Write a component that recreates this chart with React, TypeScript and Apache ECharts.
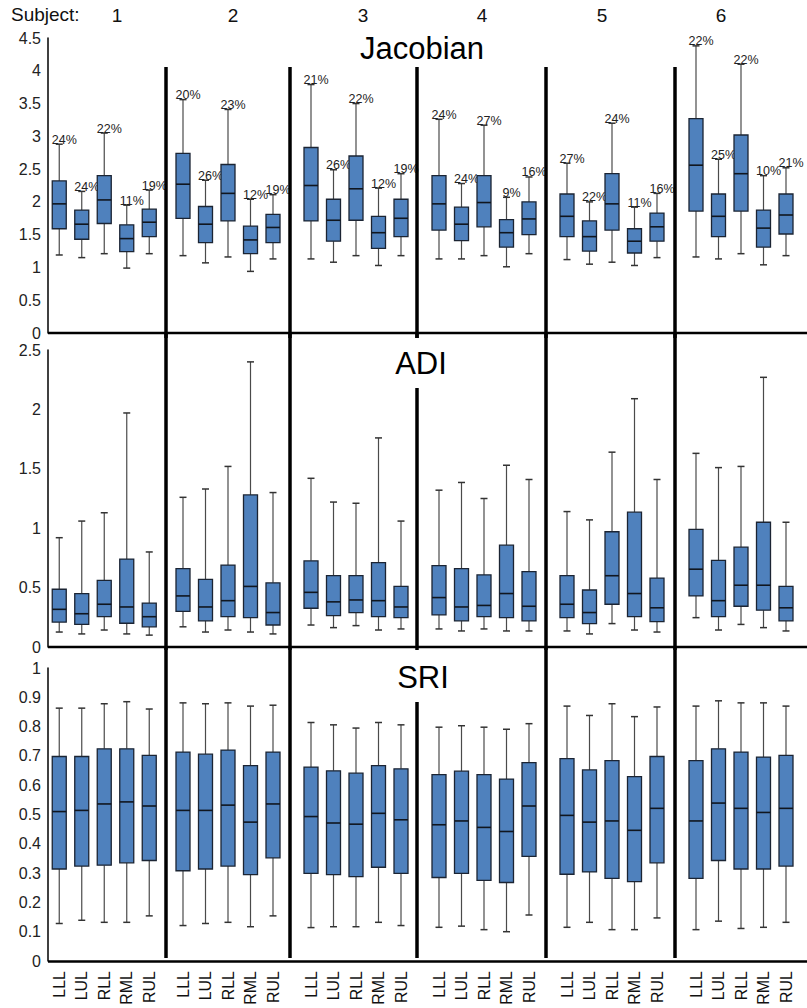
import React, { useEffect, useRef } from "react";
import * as echarts from "echarts";

const lobes = ["LLL", "LUL", "RLL", "RML", "RUL"];
const subjects = ["1", "2", "3", "4", "5", "6"];

// [min, q1, median, q3, max] per lobe, per subject
const jacobianBoxes = [
  [[1.19, 1.59, 1.97, 2.32, 2.88], [1.15, 1.43, 1.66, 1.875, 2.16], [1.21, 1.67, 2.03, 2.4, 3.05], [0.99, 1.24, 1.44, 1.65, 1.95], [1.21, 1.47, 1.69, 1.89, 2.18]],
  [[1.18, 1.75, 2.27, 2.74, 3.56], [1.07, 1.38, 1.66, 1.93, 2.33], [1.16, 1.71, 2.13, 2.57, 3.41], [0.94, 1.21, 1.42, 1.63, 2.04], [1.13, 1.38, 1.61, 1.81, 2.11]],
  [[1.13, 1.71, 2.25, 2.83, 3.79], [1.08, 1.4, 1.72, 2.04, 2.49], [1.18, 1.72, 2.2, 2.7, 3.5], [1.03, 1.29, 1.53, 1.78, 2.21], [1.18, 1.47, 1.75, 2.04, 2.43]],
  [[1.13, 1.57, 1.97, 2.4, 3.26], [1.13, 1.41, 1.66, 1.92, 2.28], [1.18, 1.62, 1.99, 2.4, 3.17], [1.01, 1.31, 1.53, 1.73, 2.07], [1.21, 1.5, 1.74, 2.0, 2.38]],
  [[1.12, 1.47, 1.78, 2.12, 2.59], [1.05, 1.25, 1.47, 1.71, 2.0], [1.08, 1.57, 1.97, 2.43, 3.2], [1.03, 1.22, 1.4, 1.59, 1.92], [1.15, 1.4, 1.62, 1.83, 2.13]],
  [[1.16, 1.86, 2.56, 3.27, 4.38], [1.13, 1.47, 1.78, 2.12, 2.65], [1.21, 1.86, 2.43, 3.02, 4.1], [1.04, 1.31, 1.6, 1.875, 2.4], [1.18, 1.51, 1.8, 2.12, 2.52]],
];
const jacobianPct = [
  ["24%", "24%", "22%", "11%", "19%"],
  ["20%", "26%", "23%", "12%", "19%"],
  ["21%", "26%", "22%", "12%", "19%"],
  ["24%", "24%", "27%", "9%", "16%"],
  ["27%", "22%", "24%", "11%", "16%"],
  ["22%", "25%", "22%", "10%", "21%"],
];
const adiBoxes = [
  [[0.126, 0.21, 0.317, 0.486, 0.92], [0.11, 0.19, 0.28, 0.45, 1.06], [0.143, 0.255, 0.36, 0.56, 1.13], [0.11, 0.2, 0.337, 0.74, 1.97], [0.1, 0.17, 0.255, 0.37, 0.8]],
  [[0.17, 0.3, 0.43, 0.66, 1.26], [0.126, 0.22, 0.337, 0.57, 1.33], [0.143, 0.255, 0.39, 0.69, 1.52], [0.126, 0.247, 0.51, 1.28, 2.4], [0.11, 0.185, 0.29, 0.54, 1.3]],
  [[0.185, 0.326, 0.46, 0.725, 1.42], [0.163, 0.264, 0.38, 0.6, 1.22], [0.18, 0.29, 0.396, 0.6, 1.21], [0.143, 0.255, 0.39, 0.71, 1.76], [0.152, 0.247, 0.337, 0.51, 1.06]],
  [[0.152, 0.27, 0.416, 0.685, 1.32], [0.135, 0.22, 0.337, 0.66, 1.385], [0.152, 0.255, 0.35, 0.607, 1.25], [0.135, 0.247, 0.45, 0.857, 1.53], [0.135, 0.22, 0.343, 0.635, 1.41]],
  [[0.135, 0.247, 0.36, 0.6, 1.14], [0.11, 0.197, 0.29, 0.48, 1.07], [0.197, 0.36, 0.6, 0.97, 1.64], [0.143, 0.255, 0.45, 1.135, 2.09], [0.126, 0.213, 0.33, 0.58, 1.41]],
  [[0.247, 0.43, 0.655, 0.99, 1.63], [0.143, 0.255, 0.39, 0.73, 1.51], [0.19, 0.343, 0.52, 0.84, 1.52], [0.163, 0.31, 0.52, 1.05, 2.27], [0.135, 0.22, 0.33, 0.51, 1.05]],
];
const sriBoxes = [
  [[0.128, 0.314, 0.51, 0.698, 0.863], [0.139, 0.324, 0.514, 0.698, 0.863], [0.132, 0.327, 0.536, 0.724, 0.878], [0.132, 0.335, 0.543, 0.724, 0.885], [0.154, 0.343, 0.529, 0.702, 0.86]],
  [[0.121, 0.308, 0.514, 0.713, 0.881], [0.128, 0.314, 0.514, 0.706, 0.878], [0.132, 0.324, 0.532, 0.72, 0.881], [0.117, 0.295, 0.474, 0.667, 0.87], [0.154, 0.352, 0.536, 0.713, 0.873]],
  [[0.114, 0.299, 0.493, 0.662, 0.814], [0.117, 0.295, 0.471, 0.649, 0.806], [0.117, 0.288, 0.467, 0.641, 0.795], [0.132, 0.32, 0.504, 0.667, 0.814], [0.121, 0.299, 0.482, 0.656, 0.806]],
  [[0.115, 0.285, 0.465, 0.636, 0.798], [0.119, 0.299, 0.478, 0.648, 0.803], [0.107, 0.275, 0.456, 0.636, 0.798], [0.1, 0.268, 0.442, 0.621, 0.791], [0.157, 0.357, 0.529, 0.677, 0.81]],
  [[0.115, 0.296, 0.497, 0.691, 0.87], [0.132, 0.304, 0.474, 0.652, 0.838], [0.107, 0.282, 0.478, 0.684, 0.878], [0.107, 0.271, 0.446, 0.629, 0.834], [0.147, 0.335, 0.521, 0.698, 0.867]],
  [[0.107, 0.282, 0.478, 0.684, 0.87], [0.136, 0.343, 0.539, 0.724, 0.888], [0.111, 0.314, 0.521, 0.713, 0.881], [0.115, 0.314, 0.507, 0.696, 0.881], [0.132, 0.324, 0.521, 0.702, 0.87]],
];

const metricNames = ["Jacobian", "ADI", "SRI"];
const yMax = [4.5, 2.5, 1];
const yInterval = [0.5, 0.5, 0.1];

const FONT = "'Liberation Sans', Arial, Helvetica, sans-serif";

export default function App() {
  const ref = useRef<HTMLDivElement>(null);

  useEffect(() => {
    document.body.style.margin = "0";
    if (!ref.current) return;
    const chart = echarts.init(ref.current, undefined, { renderer: "svg" });

    const rowTop = [38, 350, 668];
    const rowHeight = [295, 297, 293];
    const colLeft = [48, 171.75, 299.75, 427.75, 555.75, 684.75];
    const colWidth = 112.5;
    const allBoxes = [jacobianBoxes, adiBoxes, sriBoxes];

    const grid: any[] = [];
    const xAxis: any[] = [];
    const yAxis: any[] = [];
    const series: any[] = [];

    for (let r = 0; r < 3; r++) {
      for (let c = 0; c < 6; c++) {
        const idx = r * 6 + c;
        grid.push({ left: colLeft[c], width: colWidth, top: rowTop[r], height: rowHeight[r], containLabel: false });
        xAxis.push({
          type: "category",
          gridIndex: idx,
          data: lobes,
          axisLine: { show: false },
          axisTick: { show: false },
          splitLine: { show: false },
          axisLabel: {
            show: r === 2,
            rotate: 90,
            fontSize: 16,
            fontFamily: FONT,
            color: "#111",
            margin: 10,
            interval: 0,
          },
        });
        yAxis.push({
          type: "value",
          gridIndex: idx,
          min: 0,
          max: yMax[r],
          interval: yInterval[r],
          splitLine: { show: false },
          axisTick: { show: false },
          axisLine: { show: c === 0, lineStyle: { color: "#000", width: 1.5 } },
          axisLabel: { show: c === 0, fontSize: 16, fontFamily: FONT, color: "#222", margin: 7 },
        });
        const boxes = allBoxes[r][c];
        const pct = r === 0 ? jacobianPct[c] : null;
        series.push({
          type: "custom",
          xAxisIndex: idx,
          yAxisIndex: idx,
          encode: { x: 0, y: [1, 2, 3, 4, 5] },
          data: boxes.map((b, i) => [i, ...b]),
          renderItem: (params: any, api: any) => {
            const x = api.value(0);
            const vals = [1, 2, 3, 4, 5].map((k) => api.value(k));
            const pts = vals.map((v) => api.coord([x, v]));
            const cx = pts[0][0];
            const yMin = pts[0][1], yQ1 = pts[1][1], yMd = pts[2][1], yQ3 = pts[3][1], yMx = pts[4][1];
            const hw = 7;
            const cap = 3.5;
            const whisk = { stroke: "#4a4a4a", lineWidth: 1.2 };
            const children: any[] = [
              { type: "line", shape: { x1: cx, y1: yMx, x2: cx, y2: yQ3 }, style: whisk },
              { type: "line", shape: { x1: cx, y1: yQ1, x2: cx, y2: yMin }, style: whisk },
              { type: "line", shape: { x1: cx - cap, y1: yMx, x2: cx + cap, y2: yMx }, style: { stroke: "#333", lineWidth: 1.5 } },
              { type: "line", shape: { x1: cx - cap, y1: yMin, x2: cx + cap, y2: yMin }, style: { stroke: "#333", lineWidth: 1.5 } },
              {
                type: "rect",
                shape: { x: cx - hw, y: yQ3, width: hw * 2, height: yQ1 - yQ3 },
                style: { fill: "#4F81BD", stroke: "#1b2433", lineWidth: 1.3 },
              },
              { type: "line", shape: { x1: cx - hw, y1: yMd, x2: cx + hw, y2: yMd }, style: { stroke: "#10161f", lineWidth: 1.6 } },
            ];
            if (pct) {
              children.push({
                type: "text",
                x: cx + 5,
                y: yMx + 2,
                style: {
                  text: pct[params.dataIndex],
                  fontSize: 12.5,
                  fontFamily: FONT,
                  fill: "#222",
                  align: "center",
                  verticalAlign: "bottom",
                },
              });
            }
            return { type: "group", children };
          },
        });
      }
    }

    const graphic: any[] = [];
    const lineBlack = (x1: number, y1: number, x2: number, y2: number, w: number) =>
      graphic.push({ type: "line", shape: { x1, y1, x2, y2 }, style: { stroke: "#000", lineWidth: w }, z: 10 });

    // row baselines
    lineBlack(48, 333, 807, 333, 2.5);
    lineBlack(48, 647, 807, 647, 2.5);
    lineBlack(48, 961.5, 807, 961.5, 2.5);

    // subject dividers
    const dividers = [166, 290, 417, 546, 675];
    dividers.forEach((dx, i) => {
      lineBlack(dx, 67, dx, 338, 3.5);
      if (i === 2) {
        lineBlack(dx, 333, dx, 338, 3.5);
        lineBlack(dx, 388, dx, 650, 3.5);
        lineBlack(dx, 702, dx, 958, 3.5);
      } else {
        lineBlack(dx, 333, dx, 650, 3.5);
        lineBlack(dx, 647, dx, 958, 3.5);
      }
    });

    // header texts
    graphic.push({
      type: "text",
      left: 11,
      top: 5,
      style: { text: "Subject:", fontSize: 19, fontFamily: FONT, fill: "#111" },
    });
    const subjX = [117, 233, 363, 482, 602, 721];
    subjects.forEach((s, i) => {
      graphic.push({
        type: "text",
        x: subjX[i],
        y: 15,
        style: { text: s, fontSize: 19, fontFamily: FONT, fill: "#111", align: "center", verticalAlign: "middle" },
      });
    });
    const titleX = [422, 421, 423];
    const titleY = [48, 363, 677];
    metricNames.forEach((t, i) => {
      graphic.push({
        type: "text",
        x: titleX[i],
        y: titleY[i],
        style: { text: t, fontSize: 31, fontFamily: FONT, fill: "#000", align: "center", verticalAlign: "middle" },
        z: 11,
      });
    });

    chart.setOption({
      animation: false,
      backgroundColor: "#fff",
      grid,
      xAxis,
      yAxis,
      series,
      graphic,
    });

    return () => chart.dispose();
  }, []);

  return <div ref={ref} style={{ width: 807, height: 1008 }} />;
}
